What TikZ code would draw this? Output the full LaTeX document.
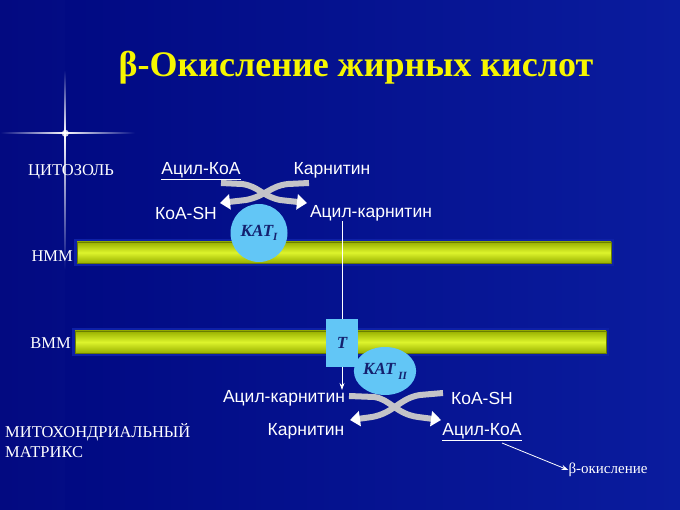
\documentclass[tikz,border=0pt]{standalone}
\usepackage{fontspec}
\setmainfont{Liberation Serif}
\newfontfamily\arialf{Liberation Sans}
\usetikzlibrary{arrows.meta,fadings,shapes.geometric}
\definecolor{bgl}{HTML}{000880}
\definecolor{bgr}{HTML}{0A1C9E}
\definecolor{memlight}{HTML}{DDF42C}
\definecolor{memdark}{HTML}{98B000}
\definecolor{memedge}{HTML}{6A7E00}
\definecolor{halo}{HTML}{0E20A6}
\definecolor{enzblue}{HTML}{62C6F6}
\definecolor{enztext}{HTML}{14206E}
\definecolor{bandgray}{HTML}{C4C4C8}
\definecolor{titley}{HTML}{F6F600}
\tikzset{
  sanslbl/.style={text=white, font=\arialf\fontsize{17.5}{20}\selectfont, inner sep=0pt},
  seriflbl/.style={text=white, font=\fontsize{16.5}{20}\selectfont, inner sep=0pt},
  membrane/.style={draw=memedge, line width=0.8pt, top color=memdark, bottom color=memdark, middle color=memlight},
  memhalo/.style={fill=halo},
  enzfont/.style={text=enztext, font=\bfseries\itshape\fontsize{17}{18}\selectfont},
  enzyme/.style={ellipse, fill=enzblue, inner sep=0pt, enzfont},
  band/.style={draw=bandgray, line width=6pt},
  bandtip/.style={-{Triangle[width=15pt,length=10pt,color=white]}},
  thinline/.style={draw=white, line width=0.8pt},
  thinarrow/.style={thinline, -{Stealth[length=7pt,width=5pt]}},
}
\begin{document}
\begin{tikzpicture}[x=1pt,y=-1pt]
\useasboundingbox (0,0) rectangle (680,510);
% background
\shade[left color=bgl, right color=bgr] (0,0) rectangle (680,510);
\fill[white, opacity=0.012] (0,0) rectangle (65,510);
% lens flare
\fill[white, path fading=north] (64.2,70) rectangle (65.8,133);
\fill[white, path fading=south] (64.2,133) rectangle (65.8,270);
\fill[white, path fading=west] (0,132.2) rectangle (65,133.8);
\fill[white, path fading=east] (65,132.2) rectangle (135,133.8);
\fill[white, path fading=circle with fuzzy edge 15 percent, opacity=0.8] (65,133) circle (4);

% title
\node[text=titley, font=\bfseries\fontsize{36}{42}\selectfont, inner sep=0pt] (title) at (356,68) {β-Окисление жирных кислот};

% membranes
\fill[memhalo] (74,239) rectangle (614,266);
\fill[memhalo] (72,328) rectangle (609,356);
\node[membrane, minimum width=534pt, minimum height=21pt, inner sep=0pt] (nmm) at (344,252.5) {};
\node[membrane, minimum width=531pt, minimum height=22pt, inner sep=0pt] (vmm) at (340.5,342) {};
\node[seriflbl, anchor=east] (nmmlbl) at (73,256) {НММ};
\node[seriflbl, anchor=east] (vmmlbl) at (71,343) {ВММ};

% cytosol labels
\node[seriflbl] (cyto) at (71,172) {ЦИТОЗОЛЬ};
\node[sanslbl] (acoa1) at (201,171) {\underline{Ацил-КоА}};
\node[sanslbl] (carn1) at (332,170) {Карнитин};
\node[sanslbl] (koash1) at (186,213) {КоА-SH};
\node[sanslbl] (acarn1) at (371,213) {Ацил-карнитин};

% KAT I
\node[enzyme, minimum width=57pt, minimum height=58pt] (kat1) at (259,233) {КАТ\raisebox{-4pt}{\fontsize{11}{11}\selectfont I}};

% top crossing arrows
\coordinate (t1s) at (221,183);
\coordinate (t1e) at (307,203);
\coordinate (t2s) at (309,183);
\coordinate (t2e) at (220,203);
\draw[band, bandtip] (t1s) -- (242,184) .. controls (258,186) and (262,196) .. (280,200) -- (t1e);
\draw[band, bandtip] (t2s) -- (288,184) .. controls (270,186) and (266,196) .. (246,200) -- (t2e);

% transporter T
\node[fill=enzblue, minimum width=32pt, minimum height=48pt, inner sep=0pt, enzfont] (T) at (342,343) {T};

% KAT II
\node[enzyme, minimum width=57pt, minimum height=48pt] (kat2) at (385,371) {КАТ\,\raisebox{-5pt}{\fontsize{11}{11}\selectfont II}};

% matrix labels
\node[sanslbl] (acarn2) at (284,398) {Ацил-карнитин};
\node[sanslbl] (koash2) at (482,398) {КоА-SH};
\node[sanslbl] (carn2) at (306,431) {Карнитин};
\node[sanslbl] (acoa2) at (482,432) {\underline{Ацил-КоА}};
\node[seriflbl, anchor=north west, align=left, font=\fontsize{16.5}{20.5}\selectfont] (matrix) at (5,423) {МИТОХОНДРИАЛЬНЫЙ\\МАТРИКС};
\node[seriflbl, font=\fontsize{15}{18}\selectfont] (beta) at (608,470) {β-окисление};

% transport line (interrupted by the transporter)
\draw[thinline] (T |- acarn1.south) -- (T.north);
\draw[thinarrow] (T.south) -- (T |- acarn2.north);

% bottom crossing arrows
\coordinate (b1s) at (349,396);
\coordinate (b1e) at (441,420);
\coordinate (b2s) at (443,393);
\coordinate (b2e) at (350,420);
\draw[band, bandtip] (b1s) -- (374,397) .. controls (390,399) and (396,414) .. (418,417) -- (b1e);
\draw[band, bandtip] (b2s) -- (420,395) .. controls (400,398) and (394,413) .. (372,417) -- (b2e);

% to beta-oxidation
\draw[thinarrow] (502,443) -- (beta.west);
\end{tikzpicture}
\end{document}
